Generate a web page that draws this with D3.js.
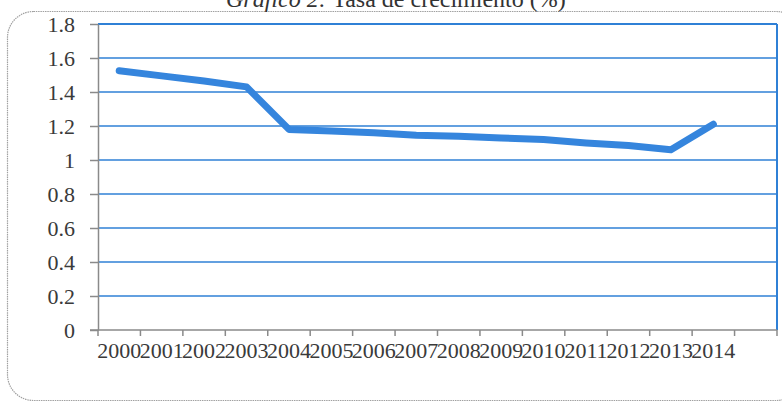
<!DOCTYPE html>
<html>
<head>
<meta charset="utf-8">
<script src="https://cdn.jsdelivr.net/npm/d3@7"></script>
<style>
  body { margin: 0; background: #fff; }
  svg text { font-family: "Liberation Serif", "Times New Roman", serif; }
</style>
</head>
<body>
<script>
// datos
let years = ['2000', '2001', '2002', '2003', '2004', '2005', '2006', '2007',
             '2008', '2009', '2010', '2011', '2012', '2013', '2014', ''];
let rates = [1.525, 1.495, 1.465, 1.43, 1.18, 1.17, 1.16, 1.145,
             1.14, 1.13, 1.12, 1.10, 1.085, 1.06, 1.21];
let yTicks = [0, 0.2, 0.4, 0.6, 0.8, 1, 1.2, 1.4, 1.6, 1.8];

let width = 782;
let height = 403;

let svg = d3.select('body')
    .append('svg')
    .attr('width', width)
    .attr('height', height);

// marco redondeado
svg.append('rect')
    .attr('x', 7.5)
    .attr('y', 11.5)
    .attr('width', 795)
    .attr('height', 389)
    .attr('rx', 26)
    .attr('fill', 'none')
    .attr('stroke', '#a0a0a0')
    .attr('stroke-width', 1.2)
    .attr('stroke-dasharray', '1.5,0.8');

// título (cortado arriba, como en el original)
let title = svg.append('text')
    .attr('x', 226)
    .attr('y', 7)
    .attr('font-size', '24px')
    .attr('fill', '#333');
title.append('tspan').attr('font-style', 'italic').text('Gráfico 2:');
title.append('tspan').text(' Tasa de crecimiento (%)');

let plot = {left: 98, right: 777, top: 24, bottom: 330};

let x = d3.scaleBand()
    .domain(years)
    .range([plot.left, plot.right]);

let y = d3.scaleLinear()
    .domain([0, 1.8])
    .range([plot.bottom, plot.top]);

// líneas de cuadrícula
svg.selectAll('line.grid')
    .data(yTicks.filter(d => d > 0))
    .enter()
    .append('line')
    .attr('class', 'grid')
    .attr('x1', plot.left)
    .attr('x2', plot.right)
    .attr('y1', d => y(d))
    .attr('y2', d => y(d))
    .attr('stroke', '#2f80d6')
    .attr('stroke-width', d => d === 1.8 ? 2 : 1.6);

// borde derecho
svg.append('line')
    .attr('x1', plot.right)
    .attr('x2', plot.right)
    .attr('y1', plot.top)
    .attr('y2', plot.bottom)
    .attr('stroke', '#2f80d6')
    .attr('stroke-width', 2);

// eje y
let yAxis = svg.append('g')
    .attr('transform', `translate(${plot.left},0)`)
    .call(d3.axisLeft(y).tickValues(yTicks).tickSize(8).tickSizeOuter(0)
        .tickFormat(d => d3.format('')(d)));
yAxis.select('.domain').attr('stroke', '#8a8a8a').attr('stroke-width', 1.5);
yAxis.selectAll('.tick line').attr('stroke', '#8a8a8a').attr('stroke-width', 1.5);
yAxis.selectAll('.tick text')
    .attr('x', -23)
    .attr('font-size', '22px')
    .attr('fill', '#3a3a3a');

// eje x
let xAxis = svg.append('g')
    .attr('transform', `translate(0,${plot.bottom})`)
    .call(d3.axisBottom(x).tickSize(0).tickSizeOuter(0));
xAxis.select('.domain').remove();
xAxis.append('line')
    .attr('x1', plot.left - 8)
    .attr('x2', plot.right)
    .attr('stroke', '#8a8a8a')
    .attr('stroke-width', 1.5);
xAxis.selectAll('line.xt')
    .data(years.concat(['end']))
    .enter()
    .append('line')
    .attr('class', 'xt')
    .attr('x1', (d, i) => plot.left + i * x.step())
    .attr('x2', (d, i) => plot.left + i * x.step())
    .attr('y1', 0)
    .attr('y2', 6)
    .attr('stroke', '#8a8a8a')
    .attr('stroke-width', 1.5);
xAxis.selectAll('.tick text')
    .attr('y', 12)
    .attr('font-size', '22px')
    .attr('fill', '#3a3a3a');

// línea de la serie
let line = d3.line()
    .x((d, i) => x(years[i]) + x.bandwidth() / 2)
    .y(d => y(d));

svg.append('path')
    .datum(rates)
    .attr('d', line)
    .attr('fill', 'none')
    .attr('stroke', '#3585dd')
    .attr('stroke-width', 7)
    .attr('stroke-linejoin', 'round')
    .attr('stroke-linecap', 'round');
</script>
</body>
</html>
